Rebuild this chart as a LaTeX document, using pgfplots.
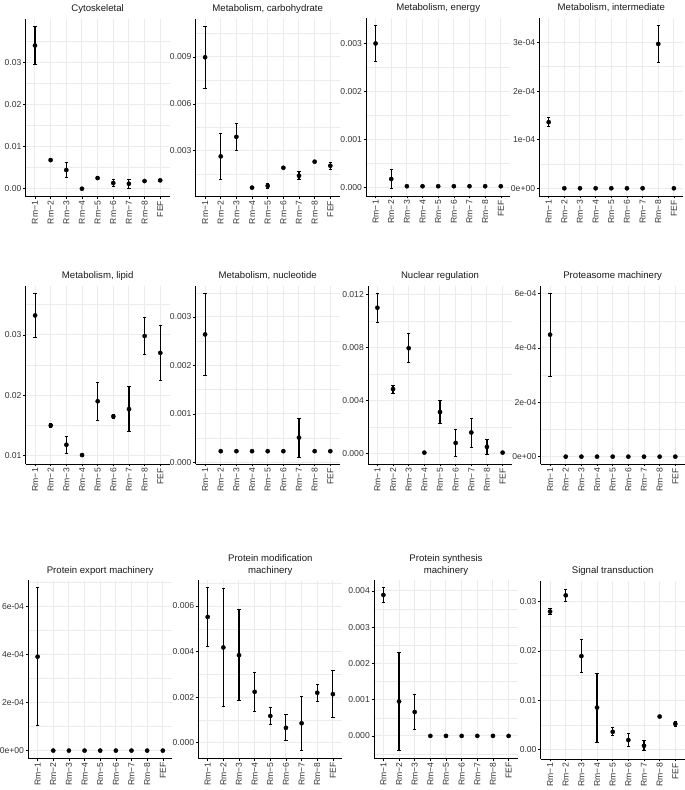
\documentclass[border=0pt]{standalone}
\usepackage{fontspec}
\setmainfont{Liberation Sans}
\usepackage{pgfplots}
\pgfplotsset{compat=1.18}
\definecolor{gridc}{gray}{0.92}
\newcommand{\tickfont}{\fontsize{8.6}{9}\selectfont}
\newcommand{\titlefont}{\fontsize{9.6}{11.5}\selectfont}
\pgfplotsset{
  panel/.style={
    scale only axis, width=144pt, height=178pt, anchor=south west,
    xmin=-0.6, xmax=8.6, xtick={0,...,8},
    xticklabels={Rm−1,Rm−2,Rm−3,Rm−4,Rm−5,Rm−6,Rm−7,Rm−8,FEF},
    scaled y ticks=false,
    axis x line*=bottom, axis y line*=left,
    axis line style={-, line width=0.6pt, black},
    tick align=outside, major tick length=2.5pt, minor tick length=0pt,
    tick style={black, line width=0.5pt},
    grid=both,
    major grid style={line width=1pt, color=gridc},
    minor grid style={line width=0.5pt, color=gridc},
    xticklabel style={rotate=90, anchor=east, font=\tickfont, text=black!80, inner sep=1.5pt},
    yticklabel style={font=\tickfont, text=black!80, inner sep=1.5pt},
    title style={at={(0.5,1)}, anchor=base, yshift=1pt, font=\titlefont, text=black!90, align=center},
    clip=false,
  },
  pts/.style={only marks, black, mark=*, mark size=2.1pt,
    error bars/.cd, y dir=both, y explicit,
    error bar style={line width=1.1pt, black},
    error mark options={black, line width=0.8pt, mark size=1.7pt, rotate=90}},
}
\begin{document}
\begin{tikzpicture}
\useasboundingbox (0pt,0pt) rectangle (685pt,790pt);
% Row 1
\begin{axis}[panel, at={(25.6pt,593.3pt)}, title={Cytoskeletal},
  ymin=-0.002, ymax=0.0405, ytick={0,0.01,0.02,0.03}, yticklabels={0.00,0.01,0.02,0.03},
  minor ytick={0.005,0.015,0.025,0.035}]
\addplot[pts] coordinates {
 (0,0.0341) +- (0,0.0045) (1,0.00674) +- (0,0.0003) (2,0.00436) +- (0,0.0018)
 (3,-0.0001) +- (0,0) (4,0.00245) +- (0,0.0003) (5,0.00126) +- (0,0.0008)
 (6,0.0011) +- (0,0.0011) (7,0.00174) +- (0,0.0001) (8,0.0019) +- (0,0.0002)};
\end{axis}
\begin{axis}[panel, at={(195.7pt,593.3pt)}, title={Metabolism, carbohydrate},
  ymin=0.00006, ymax=0.01145, ytick={0.003,0.006,0.009}, yticklabels={0.003,0.006,0.009},
  minor ytick={0.0015,0.0045,0.0075,0.0105}]
\addplot[pts] coordinates {
 (0,0.00898) +- (0,0.00198) (1,0.00264) +- (0,0.0015) (2,0.00389) +- (0,0.00087)
 (3,0.00064) +- (0,0.00003) (4,0.00075) +- (0,0.00013) (5,0.00191) +- (0,0.00007)
 (6,0.0014) +- (0,0.00025) (7,0.0023) +- (0,0.00003) (8,0.00204) +- (0,0.00022)};
\end{axis}
\begin{axis}[panel, at={(366.2pt,594pt)}, title={Metabolism, energy},
  ymin=-0.000173, ymax=0.00353, ytick={0,0.001,0.002,0.003}, yticklabels={0.000,0.001,0.002,0.003},
  minor ytick={0.0005,0.0015,0.0025}]
\addplot[pts] coordinates {
 (0,0.003) +- (0,0.00037) (1,0.00018) +- (0,0.0002) (2,0.00003) +- (0,0)
 (3,0.00003) +- (0,0) (4,0.00003) +- (0,0) (5,0.00003) +- (0,0)
 (6,0.00003) +- (0,0) (7,0.00003) +- (0,0) (8,0.00003) +- (0,0)};
\end{axis}
\begin{axis}[panel, at={(539.3pt,594pt)}, title={Metabolism, intermediate},
  ymin=-0.0000159, ymax=0.0003503, ytick={0,0.0001,0.0002,0.0003}, yticklabels={0e+00,1e-04,2e-04,3e-04},
  minor ytick={0.00005,0.00015,0.00025}]
\addplot[pts] coordinates {
 (0,0.000136) +- (0,0.000009) (1,0) +- (0,0) (2,0) +- (0,0)
 (3,0) +- (0,0) (4,0) +- (0,0) (5,0) +- (0,0)
 (6,0) +- (0,0) (7,0.000297) +- (0,0.000038) (8,0) +- (0,0)};
\end{axis}
% Row 2
\begin{axis}[panel, at={(25.7pt,326pt)}, title={Metabolism, lipid},
  ymin=0.00862, ymax=0.03807, ytick={0.01,0.02,0.03}, yticklabels={0.01,0.02,0.03},
  minor ytick={0.015,0.025,0.035}]
\addplot[pts] coordinates {
 (0,0.0332) +- (0,0.0036) (1,0.0150) +- (0,0.0004) (2,0.0118) +- (0,0.0014)
 (3,0.0101) +- (0,0.0001) (4,0.0190) +- (0,0.0032) (5,0.0165) +- (0,0.0004)
 (6,0.0177) +- (0,0.0037) (7,0.0298) +- (0,0.0030) (8,0.0270) +- (0,0.0045)};
\end{axis}
\begin{axis}[panel, at={(195.7pt,326pt)}, title={Metabolism, nucleotide},
  ymin=-0.0000345, ymax=0.00364, ytick={0,0.001,0.002,0.003}, yticklabels={0.000,0.001,0.002,0.003},
  minor ytick={0.0005,0.0015,0.0025,0.0035}]
\addplot[pts] coordinates {
 (0,0.00264) +- (0,0.00085) (1,0.00023) +- (0,0) (2,0.00023) +- (0,0)
 (3,0.00023) +- (0,0) (4,0.00023) +- (0,0) (5,0.00023) +- (0,0)
 (6,0.00051) +- (0,0.0004) (7,0.00023) +- (0,0) (8,0.00023) +- (0,0)};
\end{axis}
\begin{axis}[panel, at={(368pt,326pt)}, title={Nuclear regulation},
  ymin=-0.00081, ymax=0.01263, ytick={0,0.004,0.008,0.012}, yticklabels={0.000,0.004,0.008,0.012},
  minor ytick={0.002,0.006,0.010}]
\addplot[pts] coordinates {
 (0,0.01099) +- (0,0.0011) (1,0.00485) +- (0,0.0003) (2,0.00793) +- (0,0.0011)
 (3,0.00005) +- (0,0) (4,0.00311) +- (0,0.00085) (5,0.00078) +- (0,0.001)
 (6,0.00157) +- (0,0.0011) (7,0.00048) +- (0,0.0006) (8,0.00005) +- (0,0)};
\end{axis}
\begin{axis}[panel, at={(540.7pt,326pt)}, title={Proteasome machinery},
  ymin=-0.000027, ymax=0.000628, ytick={0,0.0002,0.0004,0.0006}, yticklabels={0e+00,2e-04,4e-04,6e-04},
  minor ytick={0.0001,0.0003,0.0005}]
\addplot[pts] coordinates {
 (0,0.000449) +- (0,0.000152) (1,0) +- (0,0) (2,0) +- (0,0)
 (3,0) +- (0,0) (4,0) +- (0,0) (5,0) +- (0,0)
 (6,0) +- (0,0) (7,0) +- (0,0) (8,0) +- (0,0)};
\end{axis}
% Row 3
\begin{axis}[panel, at={(28.2pt,31.7pt)}, title={Protein export machinery},
  ymin=-0.000032, ymax=0.000707, ytick={0,0.0002,0.0004,0.0006}, yticklabels={0e+00,2e-04,4e-04,6e-04},
  minor ytick={0.0001,0.0003,0.0005,0.0007}]
\addplot[pts] coordinates {
 (0,0.00039) +- (0,0.000286) (1,0) +- (0,0) (2,0) +- (0,0)
 (3,0) +- (0,0) (4,0) +- (0,0) (5,0) +- (0,0)
 (6,0) +- (0,0) (7,0) +- (0,0) (8,0) +- (0,0)};
\end{axis}
\begin{axis}[panel, at={(198.3pt,31.7pt)}, title={Protein modification\\machinery},
  ymin=-0.00069, ymax=0.00713, ytick={0,0.002,0.004,0.006}, yticklabels={0.000,0.002,0.004,0.006},
  minor ytick={0.001,0.003,0.005,0.007}]
\addplot[pts] coordinates {
 (0,0.00552) +- (0,0.00128) (1,0.00418) +- (0,0.0026) (2,0.00384) +- (0,0.002)
 (3,0.00223) +- (0,0.00084) (4,0.00117) +- (0,0.00038) (5,0.00065) +- (0,0.00057)
 (6,0.00085) +- (0,0.0012) (7,0.00219) +- (0,0.00037) (8,0.00213) +- (0,0.00103)};
\end{axis}
\begin{axis}[panel, at={(374pt,31.7pt)}, title={Protein synthesis\\machinery},
  ymin=-0.000618, ymax=0.004295, ytick={0,0.001,0.002,0.003,0.004}, yticklabels={0.000,0.001,0.002,0.003,0.004},
  minor ytick={-0.0005,0.0005,0.0015,0.0025,0.0035}]
\addplot[pts] coordinates {
 (0,0.00389) +- (0,0.00021) (1,0.00095) +- (0,0.00135) (2,0.00066) +- (0,0.00049)
 (3,0) +- (0,0) (4,0) +- (0,0) (5,0) +- (0,0)
 (6,0) +- (0,0) (7,0) +- (0,0) (8,0) +- (0,0)};
\end{axis}
\begin{axis}[panel, at={(540.7pt,31pt)}, title={Signal transduction},
  ymin=-0.00188, ymax=0.03417, ytick={0,0.01,0.02,0.03}, yticklabels={0.00,0.01,0.02,0.03},
  minor ytick={0.005,0.015,0.025}]
\addplot[pts] coordinates {
 (0,0.02798) +- (0,0.00065) (1,0.03127) +- (0,0.00128) (2,0.01896) +- (0,0.0034)
 (3,0.00854) +- (0,0.007) (4,0.00363) +- (0,0.0008) (5,0.00195) +- (0,0.0013)
 (6,0.00081) +- (0,0.001) (7,0.00672) +- (0,0.0001) (8,0.00525) +- (0,0.00057)};
\end{axis}
\end{tikzpicture}
\end{document}
